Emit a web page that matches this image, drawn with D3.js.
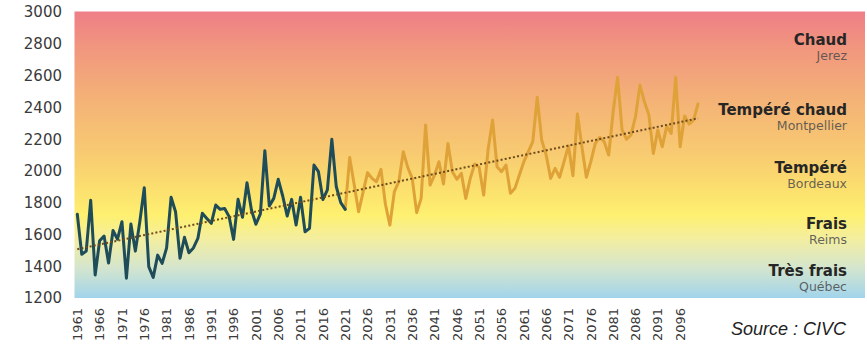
<!DOCTYPE html>
<html>
<head>
<meta charset="utf-8">
<script src="https://cdn.jsdelivr.net/npm/d3@7"></script>
<style>
  body { margin: 0; background: #ffffff; }
  svg { display: block; font-family: "DejaVu Sans", Verdana, sans-serif; }
</style>
</head>
<body>
<svg id="chart" width="867" height="345"></svg>
<script>
// Huglin index, observed series (1961–2021)
const observedStart = 1961;
const observed = [
  1727, 1475, 1495, 1815, 1345, 1560, 1590, 1420, 1625, 1570,
  1680, 1325, 1665, 1495, 1680, 1894, 1397, 1330, 1470, 1418,
  1515, 1834, 1743, 1450, 1582, 1485, 1515, 1575, 1733, 1701,
  1670, 1785, 1758, 1763, 1712, 1569, 1821, 1708, 1926, 1754,
  1664, 1729, 2127, 1779, 1827, 1947, 1842, 1716, 1821, 1659,
  1834, 1617, 1638, 2037, 1995, 1820, 1880, 2199, 1900, 1800,
  1758
];

// Projected series (2021–2100)
const projectedStart = 2021;
const projected = [
  1758, 2085, 1915, 1743, 1866, 1989, 1953, 1932, 2010, 1790,
  1659, 1869, 1932, 2121, 2022, 1953, 1737, 1827, 2289, 1911,
  1974, 2058, 1917, 2173, 1995, 1947, 1985, 1827, 1953, 2043,
  2022, 1848, 2136, 2320, 2026, 1995, 2037, 1859, 1890, 1974,
  2058, 2121, 2184, 2463, 2194, 2100, 1953, 2016, 1960, 2058,
  2157, 1970, 2358, 2152, 1960, 2058, 2173, 2211, 2184, 2100,
  2372, 2589, 2257, 2199, 2226, 2341, 2540, 2435, 2352, 2110,
  2257, 2152, 2282, 2236, 2589, 2152, 2345, 2295, 2320, 2421
];

const yTicks = [1200, 1400, 1600, 1800, 2000, 2200, 2400, 2600, 2800, 3000];
const xTickYears = [
  1961, 1966, 1971, 1976, 1981, 1986, 1991, 1996, 2001, 2006,
  2011, 2016, 2021, 2026, 2031, 2036, 2041, 2046, 2051, 2056,
  2061, 2066, 2071, 2076, 2081, 2086, 2091, 2096
];

// Climate classes and a reference vineyard for each
const zoneNames  = ["Chaud", "Tempéré chaud", "Tempéré", "Frais", "Très frais"];
const zonePlaces = ["Jerez", "Montpellier", "Bordeaux", "Reims", "Québec"];

const sourceText = "Source : CIVC";

// ---- layout ----
const svg = d3.select("#chart");
const plot = { left: 74.5, right: 865, top: 11.5, bottom: 298 };
const zoneBaselines = [45, 115, 173, 229, 276];

const x = d3.scaleLinear().domain([1961, 2100]).range([77.3, 698]);
const y = d3.scaleLinear().domain([1200, 3000]).range([plot.bottom, plot.top + 0.5]);

// background gradient, hot (top) to cool (bottom)
const defs = svg.append("defs");
const grad = defs.append("linearGradient")
  .attr("id", "zoneGrad").attr("x1", 0).attr("y1", 0).attr("x2", 0).attr("y2", 1);
[
  [0.00, "#ee7e87"],
  [0.12, "#f1957f"],
  [0.30, "#f4b177"],
  [0.50, "#f8cb71"],
  [0.64, "#fce36e"],
  [0.71, "#fef070"],
  [0.79, "#f4ee9e"],
  [0.89, "#d6e6cc"],
  [1.00, "#a2d4ec"]
].forEach(([o, c]) => grad.append("stop").attr("offset", o).attr("stop-color", c));

svg.append("rect")
  .attr("x", plot.left).attr("y", plot.top)
  .attr("width", plot.right - plot.left).attr("height", plot.bottom - plot.top)
  .attr("fill", "url(#zoneGrad)");

// y axis labels
svg.append("g").selectAll("text").data(yTicks).join("text")
  .attr("x", 62).attr("y", d => y(d)).attr("dy", "0.36em")
  .attr("text-anchor", "end").attr("font-size", 15).attr("fill", "#3a3a3a")
  .text(d => d);

// x axis labels, rotated
svg.append("g").selectAll("text").data(xTickYears).join("text")
  .attr("transform", d => `translate(${x(d)},308) rotate(-90)`)
  .attr("dy", "0.36em")
  .attr("text-anchor", "end").attr("font-size", 13).attr("fill", "#3a3a3a")
  .text(d => d);

// series
const obsPts = observed.map((v, i) => ({ year: observedStart + i, value: v }));
const projPts = projected.map((v, i) => ({ year: projectedStart + i, value: v }));
const line = d3.line().x(d => x(d.year)).y(d => y(d.value));

svg.append("path").datum(projPts)
  .attr("d", line).attr("fill", "none")
  .attr("stroke", "#dfa238").attr("stroke-width", 3)
  .attr("stroke-linejoin", "round").attr("stroke-linecap", "round");

svg.append("path").datum(obsPts)
  .attr("d", line).attr("fill", "none")
  .attr("stroke", "#1e4c58").attr("stroke-width", 3)
  .attr("stroke-linejoin", "round").attr("stroke-linecap", "round");

// linear trend over the whole period
const allPts = obsPts.concat(projPts.slice(1));
const mx = d3.mean(allPts, d => d.year), my = d3.mean(allPts, d => d.value);
const slope = d3.sum(allPts, d => (d.year - mx) * (d.value - my)) /
              d3.sum(allPts, d => (d.year - mx) ** 2);
const trend = [1961, 2100].map(yr => ({ year: yr, value: my + slope * (yr - mx) }));
svg.append("path").datum(trend)
  .attr("d", line).attr("fill", "none")
  .attr("stroke", "#6e4a1c").attr("stroke-width", 2)
  .attr("stroke-dasharray", "2,2.2");

// climate class labels
const zoneG = svg.append("g").attr("text-anchor", "end");
zoneNames.forEach((n, i) => {
  zoneG.append("text")
    .attr("x", 847).attr("y", zoneBaselines[i])
    .attr("font-size", 15).attr("font-weight", "bold").attr("fill", "#262626")
    .text(n);
  zoneG.append("text")
    .attr("x", 847).attr("y", zoneBaselines[i] + 14.5)
    .attr("font-size", 12.5).attr("fill", "#4a4a4a").attr("fill-opacity", 0.85)
    .text(zonePlaces[i]);
});

svg.append("text")
  .attr("x", 846).attr("y", 335).attr("text-anchor", "end")
  .style("font-family", "'Liberation Sans', Arial, sans-serif")
  .attr("font-style", "italic").attr("font-size", 18).attr("fill", "#222")
  .text(sourceText);
</script>
</body>
</html>
